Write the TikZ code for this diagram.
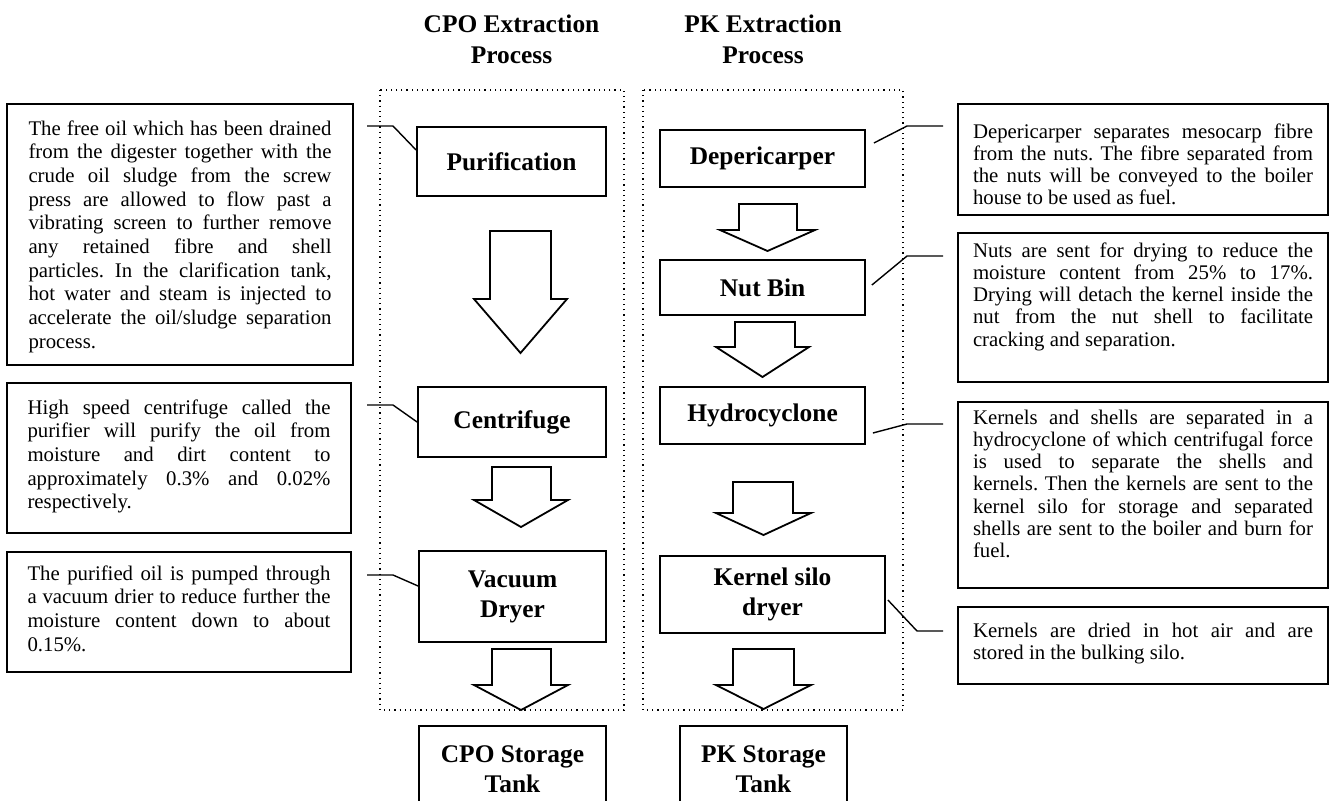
\documentclass[tikz,border=0pt]{standalone}
\usepackage{fontspec}
\setmainfont{Liberation Serif}
\frenchspacing
% one justified line of a description, and the last (ragged) line
\newcommand\jl[1]{\hbox to\linewidth{#1}}
\newcommand\lastln[1]{\hbox{#1}}
\newcommand\firstrise[1]{\rule{0pt}{#1}}
% hollow block arrow: shaft left/right x, shaft top y, head base y, head left/right x, tip y
\newcommand\blockarrow[7]{%
  \draw[blockarr] (#1,#3) -- (#2,#3) -- (#2,#4) -- (#6,#4) -- ({(#5+#6)/2},#7)
    -- (#5,#4) -- (#1,#4) -- cycle;}
\tikzset{
  stepbox/.style={draw, line width=0.9pt, fill=white, inner sep=0pt, align=center,
    font=\fontsize{12.7}{15}\selectfont\bfseries},
  title/.style={align=center, font=\fontsize{12.7}{15.5}\selectfont\bfseries},
  descbox/.style={draw, line width=0.8pt, inner ysep=0pt},
  frame/.style={draw, dotted, line width=0.6pt},
  blockarr/.style={draw, line width=0.9pt, fill=white, line join=miter},
  lead/.style={draw, line width=0.7pt},
}
\begin{document}
\begin{tikzpicture}[x=0.5pt, y=-0.5pt]
\useasboundingbox (0,0) rectangle (1338,800);

% column titles
\node[title] (ttl1) at (511.5,39.5) {CPO Extraction\\Process};
\node[title] (ttl2) at (763,39.5) {PK Extraction\\Process};

% dotted frames around the two process columns
\draw[frame] (380,90) rectangle (624,710);
\draw[frame] (643,90) rectangle (903,710);

% CPO column
\node[stepbox, minimum width=94.5pt, minimum height=34.5pt] (purif) at (511.5,161.5) {Purification};
\node[stepbox, minimum width=94pt, minimum height=35pt] (centr) at (512,422) {Centrifuge};
\node[stepbox, minimum width=93.5pt, minimum height=45.5pt] (vacdry) at (512.5,596.5) {Vacuum\\Dryer};
\node[stepbox, minimum width=93.5pt, minimum height=43pt] (cpotank) at (512.5,769) {CPO Storage\\Tank};

\blockarrow{490}{551}{231}{299}{474}{567}{353}
\blockarrow{492}{551}{467}{500}{474}{568}{527}
\blockarrow{492}{551}{649}{685}{474}{568}{710}

% PK column
\node[stepbox, minimum width=102.5pt, minimum height=28.5pt] (deperic) at (762.5,158.5) {Depericarper};
\node[stepbox, minimum width=102.5pt, minimum height=27.5pt] (nutbin) at (762.5,287.5) {Nut Bin};
\node[stepbox, minimum width=102.5pt, minimum height=28.5pt] (hydro) at (762.5,415.5) {Hydrocyclone};
\node[stepbox, minimum width=112.5pt, minimum height=38.5pt] (kernel) at (772.5,594.5) {Kernel silo\\dryer};
\node[stepbox, minimum width=83.5pt, minimum height=43pt] (pktank) at (763.5,769) {PK Storage\\Tank};

\blockarrow{739}{797}{204}{230}{720}{815}{251}
\blockarrow{735}{795}{322}{347}{716}{809}{377}
\blockarrow{733}{793}{482}{513}{716}{811}{535}
\blockarrow{733}{794}{649}{685}{716}{811}{709}

% descriptions, left side
\node[descbox, inner xsep=10.75pt] (lb1) at (180,234.5) {\parbox[c][130.5pt][t]{151.5pt}{\fontsize{10.4}{11.85}\selectfont
\jl{\firstrise{15.5pt}The free oil which has been drained}
\jl{from the digester together with the}
\jl{crude oil sludge from the screw}
\jl{press are allowed to flow past a}
\jl{vibrating screen to further remove}
\jl{any retained fibre and shell}
\jl{particles. In the clarification tank,}
\jl{hot water and steam is injected to}
\jl{accelerate the oil/sludge separation}
\lastln{process.}}};

\node[descbox, inner xsep=10.25pt] (lb2) at (179,458) {\parbox[c][75pt][t]{151.5pt}{\fontsize{10.4}{11.85}\selectfont
\jl{\firstrise{15.5pt}High speed centrifuge called the}
\jl{purifier will purify the oil from}
\jl{moisture and dirt content to}
\jl{approximately 0.3\% and 0.02\%}
\lastln{respectively.}}};

\node[descbox, inner xsep=10.25pt] (lb3) at (179,612) {\parbox[c][60pt][t]{151.5pt}{\fontsize{10.4}{11.85}\selectfont
\jl{\firstrise{14pt}The purified oil is pumped through}
\jl{a vacuum drier to reduce further the}
\jl{moisture content down to about}
\lastln{0.15\%.}}};

% descriptions, right side
\node[descbox, inner xsep=7.5pt] (rb1) at (1143,159.5) {\parbox[c][55.5pt][t]{170pt}{\fontsize{10.4}{11.15}\selectfont
\jl{\firstrise{17pt}Depericarper separates mesocarp fibre}
\jl{from the nuts. The fibre separated from}
\jl{the nuts will be conveyed to the boiler}
\lastln{house to be used as fuel.}}};

\node[descbox, inner xsep=7.5pt] (rb2) at (1143,307.5) {\parbox[c][74.5pt][t]{170pt}{\fontsize{10.4}{11.15}\selectfont
\jl{\firstrise{12pt}Nuts are sent for drying to reduce the}
\jl{moisture content from 25\% to 17\%.}
\jl{Drying will detach the kernel inside the}
\jl{nut from the nut shell to facilitate}
\lastln{cracking and separation.}}};

\node[descbox, inner xsep=7.5pt] (rb3) at (1143,495) {\parbox[c][93pt][t]{170pt}{\fontsize{10.4}{11.15}\selectfont
\jl{\firstrise{11pt}Kernels and shells are separated in a}
\jl{hydrocyclone of which centrifugal force}
\jl{is used to separate the shells and}
\jl{kernels. Then the kernels are sent to the}
\jl{kernel silo for storage and separated}
\jl{shells are sent to the boiler and burn for}
\lastln{fuel.}}};

\node[descbox, inner xsep=7.5pt] (rb4) at (1143,645.5) {\parbox[c][38.5pt][t]{170pt}{\fontsize{10.4}{11.15}\selectfont
\jl{\firstrise{15pt}Kernels are dried in hot air and are}
\lastln{stored in the bulking silo.}}};

% leader lines from descriptions to process steps
\coordinate (l1) at (367,126);
\coordinate (l2) at (367,405);
\coordinate (l3) at (367,575);
\draw[lead] (l1) -- ++(26,0) -- (purif.west |- 0,150);
\draw[lead] (l2) -- ++(26,0) -- (centr.west);
\draw[lead] (l3) -- ++(26,0) -- (vacdry.west |- 0,586);

\coordinate (r1) at (943,126);
\coordinate (r2) at (943,256);
\coordinate (r3) at (943,424);
\coordinate (r4) at (943,631);
\draw[lead] (r1) -- ++(-36,0) -- ([xshift=4pt]deperic.east |- 0,143);
\draw[lead] (r2) -- ++(-36,0) -- ([xshift=3pt]nutbin.east |- 0,285);
\draw[lead] (r3) -- ++(-36,0) -- ([xshift=3.5pt]hydro.east |- 0,433);
\draw[lead] (r4) -- ++(-26,0) -- ([xshift=1pt]kernel.east |- 0,600);
\end{tikzpicture}
\end{document}
